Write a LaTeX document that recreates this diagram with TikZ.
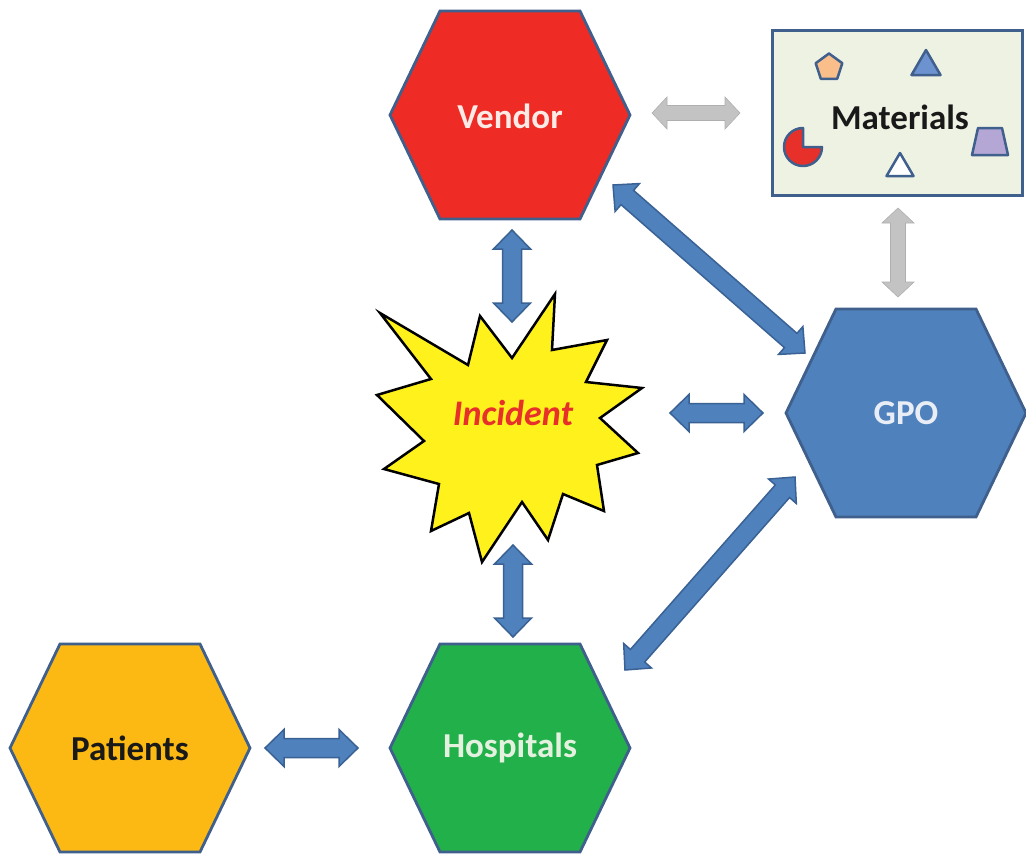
\documentclass[tikz,border=0pt]{standalone}
\usepackage{fontspec}
\setmainfont{Carlito}
\usetikzlibrary{calc}
\definecolor{hexedge}{HTML}{3F5F8C}
\definecolor{vendorred}{HTML}{EE2B24}
\definecolor{gpoblue}{HTML}{4F81BD}
\definecolor{hospgreen}{HTML}{22B04B}
\definecolor{patyellow}{HTML}{FDB913}
\definecolor{arrowblue}{HTML}{4F81BD}
\definecolor{arrowedge}{HTML}{3A6194}
\definecolor{arrowgray}{HTML}{C3C3C3}
\definecolor{matfill}{HTML}{EEF2E3}
\definecolor{starfill}{HTML}{FFF21C}
\definecolor{incred}{HTML}{E8302A}
\definecolor{vendortext}{HTML}{FBEAE6}
\definecolor{gpotext}{HTML}{E9EDF5}
\definecolor{hosptext}{HTML}{E4F1DE}
\definecolor{pentfill}{HTML}{F9BE8A}
\definecolor{trifill}{HTML}{6C93CF}
\definecolor{trapfill}{HTML}{B4A7D6}
\tikzset{
  blockarrow/.style n args={3}{to path={
    -- ($(\tikztostart)!#1!(\tikztotarget)!#2!90:(\tikztotarget)$)
    -- ($(\tikztostart)!#1!(\tikztotarget)!#3!90:(\tikztotarget)$)
    -- ($(\tikztotarget)!#1!(\tikztostart)!#3!-90:(\tikztostart)$)
    -- ($(\tikztotarget)!#1!(\tikztostart)!#2!-90:(\tikztostart)$)
    -- (\tikztotarget)
    -- ($(\tikztotarget)!#1!(\tikztostart)!#2!90:(\tikztostart)$)
    -- ($(\tikztotarget)!#1!(\tikztostart)!#3!90:(\tikztostart)$)
    -- ($(\tikztostart)!#1!(\tikztotarget)!#3!-90:(\tikztotarget)$)
    -- ($(\tikztostart)!#1!(\tikztotarget)!#2!-90:(\tikztotarget)$)
    -- cycle}},
  bluearrow/.style={blockarrow={19pt}{18.5pt}{9.5pt}, fill=arrowblue, draw=arrowedge, line width=1.5pt, line join=miter},
  grayarrow/.style={blockarrow={15pt}{16pt}{7.5pt}, fill=arrowgray, draw=arrowgray!90!black, line width=0.6pt, line join=miter},
  hexline/.style={draw=hexedge, line width=2.8pt, line join=miter},
  hextext/.style={font=\fontsize{35}{40}\selectfont\bfseries, inner sep=0pt},
  minishape/.style={draw=hexedge, line width=2.5pt, line join=round},
}
\newcommand\hexat[3]{%
  \draw[hexline, fill=#3, shift={(#1,#2)}] (-120,0) -- (-70,-104) -- (70,-104) -- (120,0) -- (70,104) -- (-70,104) -- cycle;}
\begin{document}
\begin{tikzpicture}[x=1pt,y=-1pt]
\useasboundingbox (0,0) rectangle (1026,854);
\fill[white] (0,0) rectangle (1026,854);

% hexagons
\hexat{510}{115}{vendorred}
\hexat{906}{413}{gpoblue}
\hexat{510}{748}{hospgreen}
\hexat{130}{748}{patyellow}
\node[hextext, text=vendortext] (vendor) at (510,116) {Vendor};
\node[hextext, text=gpotext] (gpo) at (906,413) {GPO};
\node[hextext, text=hosptext] (hospitals) at (510,748) {Hospitals};
\node[hextext, text=black!90] (patients) at (130,748) {Patients};

% materials box
\node[draw=hexedge, fill=matfill, line width=3pt, minimum width=250pt, minimum height=165pt, inner sep=0pt] (matbox) at (897,112.5) {};
\node[hextext, text=black!90] (materials) at (900,117) {Materials};
\draw[minishape, fill=pentfill] (829,53.5) -- (842.3,63.2) -- (837.2,78.8) -- (820.8,78.8) -- (815.7,63.2) -- cycle;
\draw[minishape, fill=trifill] (926,50) -- (940.5,75) -- (911.5,75) -- cycle;
\draw[minishape, fill=incred] (803,147) -- ++(0pt,19pt) arc[start angle=90, end angle=360, radius=19pt] -- cycle;
\draw[minishape, fill=trapfill] (978,128) -- (1002,128) -- (1008,155) -- (972,155) -- cycle;
\draw[minishape, fill=white] (900,153) -- (913.5,176) -- (886.5,176) -- cycle;

% incident star
\draw[fill=starfill, draw=black, line width=2.5pt, line join=miter, miter limit=20]
  (380,313) -- (468,365) -- (480,316) -- (512,358) -- (555,294) -- (552,350)
  -- (607,340) -- (586,382) -- (642,388) -- (600,418) -- (638,453) -- (597,465)
  -- (604,511) -- (563,494) -- (548,540) -- (522,502) -- (482,562) -- (469,513)
  -- (431,531) -- (439,484) -- (384,469) -- (424,441) -- (377,395) -- (431,379) -- cycle;
\node[font=\fontsize{36}{40}\selectfont\bfseries\itshape, text=incred, inner sep=0pt] (incident) at (513,413) {Incident};

% arrow end points
\coordinate (vi1) at (512,230); \coordinate (vi2) at (512,322);
\coordinate (ih1) at (513,545); \coordinate (ih2) at (513,637);
\coordinate (ig1) at (670,413); \coordinate (ig2) at (763,413);
\coordinate (ph1) at (265,748); \coordinate (ph2) at (358,748);
\coordinate (vg1) at (613,185); \coordinate (vg2) at (805,353);
\coordinate (hg1) at (795,477); \coordinate (hg2) at (625,670);
\coordinate (vm1) at (652,113); \coordinate (vm2) at (740,113);
\coordinate (mg1) at (898,208); \coordinate (mg2) at (898,297);

\draw[bluearrow] (vi1) to (vi2);
\draw[bluearrow] (ih1) to (ih2);
\draw[bluearrow] (ig1) to (ig2);
\draw[bluearrow] (ph1) to (ph2);
\draw[bluearrow] (vg1) to (vg2);
\draw[bluearrow] (hg1) to (hg2);
\draw[grayarrow] (vm1) to (vm2);
\draw[grayarrow] (mg1) to (mg2);
\end{tikzpicture}
\end{document}
